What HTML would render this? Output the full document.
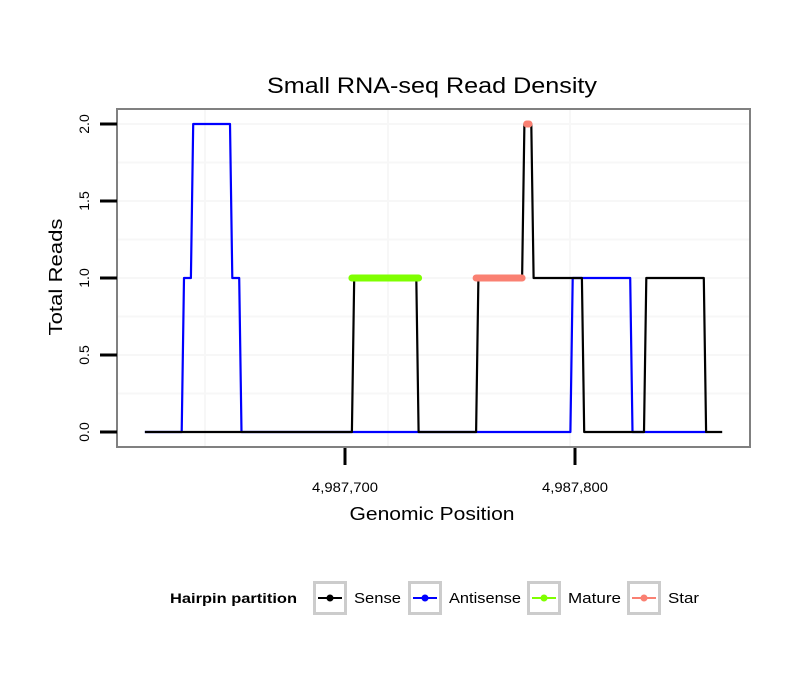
<!DOCTYPE html>
<html><head><meta charset="utf-8"><style>
body{margin:0;background:#fff}
svg text{font-family:"Liberation Sans",Arial,sans-serif}
</style></head><body>
<svg width="810" height="690" viewBox="0 0 810 690">
<text x="432" y="93" font-size="22" text-anchor="middle" textLength="330" lengthAdjust="spacingAndGlyphs">Small RNA-seq Read Density</text>
<g id="grid"></g>
<rect x="117" y="109" width="633" height="338" fill="none" stroke="#808080" stroke-width="2"/>
<g id="series"></g>
<g id="axes"></g>
<text transform="translate(62,277) rotate(-90)" font-size="18" text-anchor="middle" textLength="117" lengthAdjust="spacingAndGlyphs">Total Reads</text>
<text x="432" y="520" font-size="18" text-anchor="middle" textLength="165" lengthAdjust="spacingAndGlyphs">Genomic Position</text>
<g>
<text x="170" y="603" font-size="14" font-weight="bold" textLength="127" lengthAdjust="spacingAndGlyphs">Hairpin partition</text>
<g id="legend"></g>
</g>
<script>
const yTicks=[0,0.5,1,1.5,2];
const yTickLabels=["0.0","0.5","1.0","1.5","2.0"];
const xTicks=[0,100];
const xTickLabels=["4,987,700","4,987,800"];
// positions in bp relative to 4,987,700
const antisenseX=[-87,-71,-70,-67,-66,-50,-49,-46,-45,98,99,124,125,157];
const antisenseY=[0,0,1,1,2,2,1,1,0,0,1,1,0,0];
const senseX=[-87,3,4,31,32,57,58,77,78,81,82,103,104,130,131,156,157,164];
const senseY=[0,0,1,1,0,0,1,1,2,2,1,1,0,0,1,1,0,0];
const matureX=[3,32];
const matureY=[1,1];
const starX=[57,77,79,80];
const starY=[1,1,2,2];
const legendLabels=["Sense","Antisense","Mature","Star"];
const legendColors=["#000","#0000ff","#7fff00","#fa8072"];
const legendWidths=[47,72,53,31];

const NS="http://www.w3.org/2000/svg";
const xs=b=>345+b*2.3;
const ys=v=>432-v*154;
function mk(tag,attrs,parent){const e=document.createElementNS(NS,tag);for(const k in attrs)e.setAttribute(k,attrs[k]);parent.appendChild(e);return e;}
const grid=document.getElementById('grid'),ser=document.getElementById('series'),axes=document.getElementById('axes'),leg=document.getElementById('legend');
mk('rect',{x:117,y:109,width:633,height:338,fill:'#fff'},grid);
[205,388,570].forEach(x=>{const l=mk('line',{x1:x,x2:x,y1:110,y2:446,stroke:'#f7f7f7','stroke-width':2},grid);

});
for(let v=0.25;v<2.15;v+=0.25){const l=mk('line',{x1:118,x2:749,y1:ys(v),y2:ys(v),stroke:'#f7f7f7','stroke-width':2},grid);

}
function path(X,Y,color,w,name){const d=X.map((x,i)=>(i?'L':'M')+xs(x)+','+ys(Y[i])).join('');
const p=mk('path',{d:d,fill:'none',stroke:color,'stroke-width':w,'stroke-linecap':w>3?'round':'butt','stroke-linejoin':'round'},ser);

}
path(antisenseX,antisenseY,'#0000ff',2.2,'antisense-line');
path(senseX,senseY,'#000',2.2,'sense-line');
path(matureX,matureY,'#7fff00',7,'mature-line');
path(starX.slice(0,2),starY.slice(0,2),'#fa8072',7,'star-line-1');
path(starX.slice(2),starY.slice(2),'#fa8072',7,'star-line-2');
yTicks.forEach((v,i)=>{const t=mk('line',{x1:100,x2:117,y1:ys(v),y2:ys(v),stroke:'#000','stroke-width':3},axes);


const tx=mk('text',{transform:`translate(89,${ys(v)}) rotate(-90)`,'font-size':14,'text-anchor':'middle'},axes);tx.textContent=yTickLabels[i];

});
xTicks.forEach((b,i)=>{const t=mk('line',{x1:xs(b),x2:xs(b),y1:448,y2:465,stroke:'#000','stroke-width':3},axes);


const tx=mk('text',{x:xs(b),y:492,'font-size':14,'text-anchor':'middle',textLength:66,lengthAdjust:'spacingAndGlyphs'},axes);tx.textContent=xTickLabels[i];

});
const boxX=[313,408,527,627];
legendLabels.forEach((lab,i)=>{const g=mk('g',{},leg);


const x=boxX[i];
mk('rect',{x:x+1.5,y:582.5,width:31,height:31,fill:'#fff',stroke:'#cccccc','stroke-width':3},g);
mk('line',{x1:x+5,x2:x+29,y1:598,y2:598,stroke:legendColors[i],'stroke-width':2},g);
mk('circle',{cx:x+17,cy:598,r:3.5,fill:legendColors[i]},g);
const t=mk('text',{x:x+41,y:603,'font-size':15,textLength:legendWidths[i],lengthAdjust:'spacingAndGlyphs'},g);t.textContent=lab;});
</script>
</svg>
</body></html>
